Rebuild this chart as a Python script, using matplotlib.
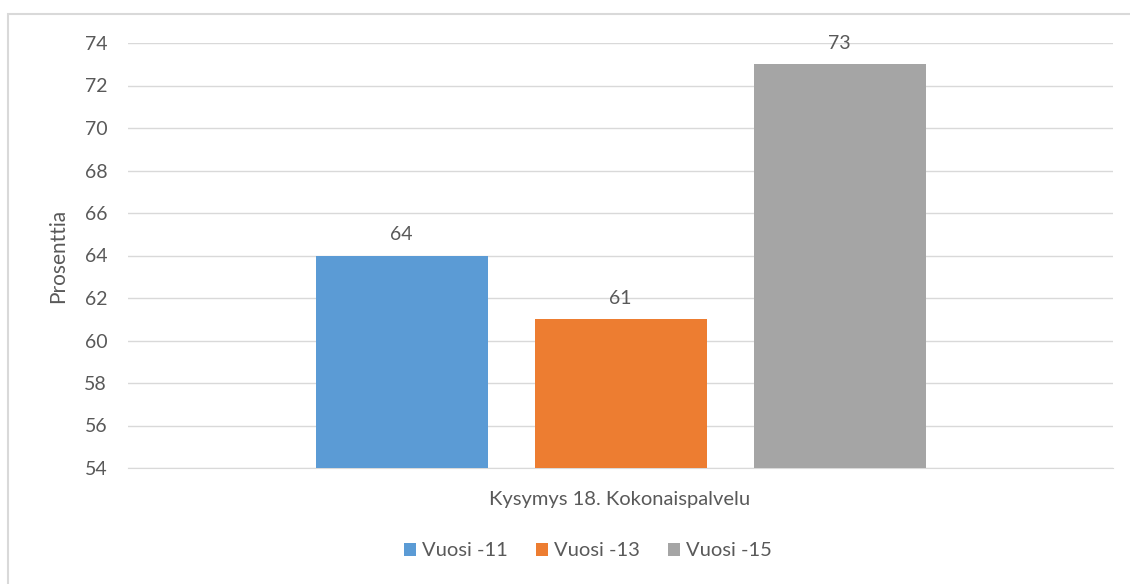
import matplotlib
matplotlib.use("Agg")
import matplotlib.pyplot as plt
from matplotlib.patches import Rectangle, Patch

category = "Kysymys 18. Kokonaispalvelu"
series = ["Vuosi -11", "Vuosi -13", "Vuosi -15"]
values = [64, 61, 73]
colors = ["#5B9BD5", "#ED7D31", "#A5A5A5"]
yticks = [54, 56, 58, 60, 62, 64, 66, 68, 70, 72, 74]

plt.rcParams['font.family'] = ['Lato', 'DejaVu Sans']
txt = "#595959"

W, H = 1130, 584
fig = plt.figure(figsize=(W / 100, H / 100), dpi=100)
fig.patches.append(Rectangle((8 / W, -0.1), 1.2, 1 - 14 / H + 0.1, transform=fig.transFigure,
                             fill=False, edgecolor="#D9D9D9", linewidth=1.5))

ax = fig.add_axes([128 / W, 1 - 468 / H, (1113 - 128) / W, (468 - 43) / H])
bw = 172 / 985
step = 219 / 985
for i, (s, v, c) in enumerate(zip(series, values, colors)):
    x = (i - 1) * step
    ax.bar(x, v - 54, bottom=54, width=bw, color=c, label=s, zorder=3)
    ax.text(x, v + 0.6, f"{v}", ha="center", va="bottom", fontsize=14, color=txt)

ax.set_xlim(-0.5, 0.5)
ax.set_ylim(54, 74)
ax.set_yticks(yticks)
ax.set_yticklabels([str(t) for t in yticks], fontsize=14, color=txt)
ax.tick_params(axis='y', length=0, pad=15)
ax.set_xticks([])
ax.grid(axis='y', color="#D9D9D9", linewidth=1, zorder=0)
for sp in ["top", "right", "left"]:
    ax.spines[sp].set_visible(False)
ax.spines["bottom"].set_color("#D9D9D9")
ax.set_ylabel("Prosenttia", fontsize=15, color=txt)
ax.yaxis.set_label_coords(-60 / 985, 0.5)

fig.text(620 / W, 1 - 500 / H, category, ha="center", va="center", fontsize=14.5, color=txt)

handles = [Patch(facecolor=c, edgecolor="none") for c in colors]
fig.legend(handles, series, loc="center", bbox_to_anchor=(588 / W, 1 - 551 / H), ncol=3,
           frameon=False, fontsize=14.5, labelcolor=txt, handlelength=0.6, handleheight=0.6,
           handletextpad=0.3, columnspacing=1.4)

fig.savefig("out.png", dpi=100)
